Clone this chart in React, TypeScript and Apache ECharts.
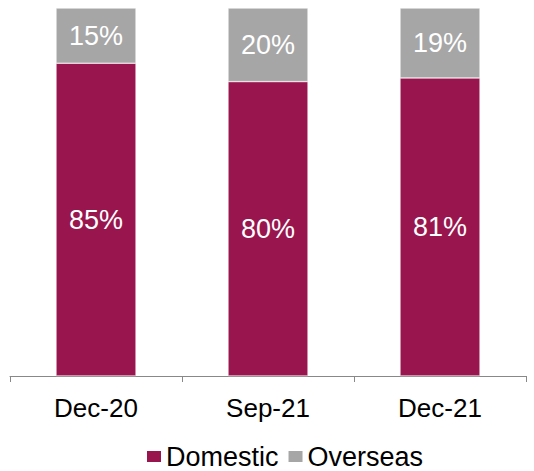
import React, { useEffect, useRef } from "react";
import * as echarts from "echarts";

const categories = ["Dec-20", "Sep-21", "Dec-21"];
const domestic = [85, 80, 81];
const overseas = [15, 20, 19];

export default function App() {
  const ref = useRef<HTMLDivElement>(null);
  useEffect(() => {
    const chart = echarts.init(ref.current!, null, { renderer: "svg" });
    const font = "'Liberation Sans', Arial, sans-serif";
    const label = {
      show: true,
      position: "inside",
      formatter: "{c}%",
      color: "#fff",
      fontSize: 27,
      fontFamily: font,
    };
    chart.setOption({
      animation: false,
      grid: { left: 10, right: 8, top: 8, bottom: 95 },
      xAxis: {
        type: "category",
        data: categories,
        axisLine: { lineStyle: { color: "#888888", width: 1 } },
        axisTick: { show: true, length: 6, lineStyle: { color: "#888888" } },
        axisLabel: { fontSize: 26, color: "#000", fontFamily: font, margin: 19 },
      },
      yAxis: { type: "value", min: 0, max: 100, show: false, splitLine: { show: false } },
      legend: {
        top: 443,
        left: 145,
        padding: 0,
        itemWidth: 16,
        itemHeight: 13,
        itemGap: 8,
        icon: "rect",
        textStyle: { fontSize: 27, color: "#000", fontFamily: font, padding: [0, 0, 0, -1] },
        data: ["Domestic", "Overseas"],
      },
      series: [
        {
          name: "Domestic",
          type: "bar",
          stack: "a",
          data: domestic,
          barWidth: 80,
          itemStyle: { color: "#99154D", borderColor: "#ffffff", borderWidth: 0.5 },
          label,
        },
        {
          name: "Overseas",
          type: "bar",
          stack: "a",
          data: overseas,
          barWidth: 80,
          itemStyle: { color: "#A6A6A6", borderColor: "#ffffff", borderWidth: 0.5 },
          label,
        },
      ],
    });
    return () => chart.dispose();
  }, []);
  return <div ref={ref} style={{ width: 534, height: 471, position: "absolute", left: 0, top: 0 }} />;
}
